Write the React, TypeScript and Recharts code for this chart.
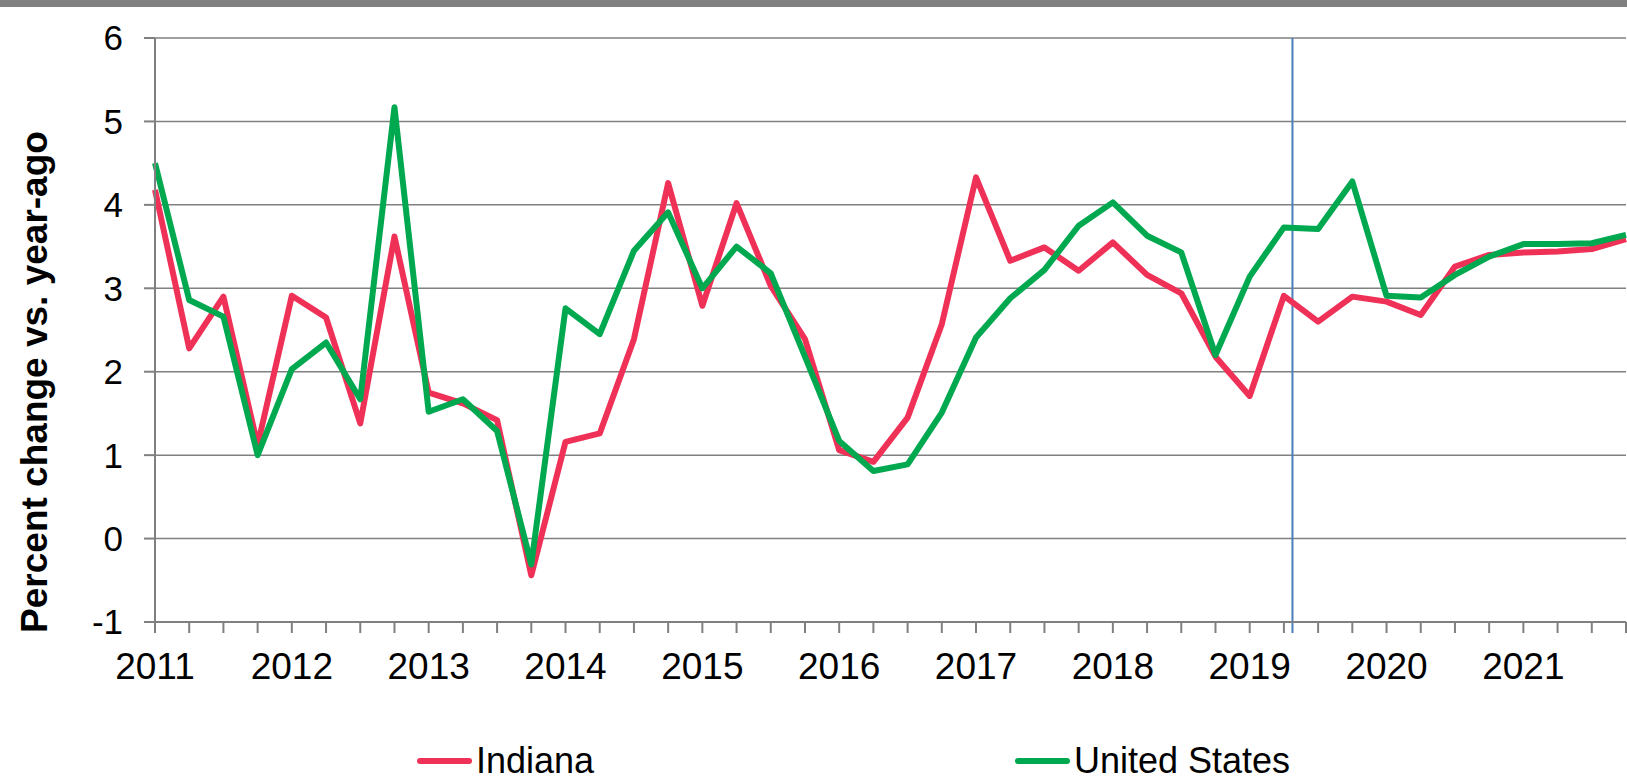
import React from "react";
import {
  LineChart,
  Line,
  XAxis,
  YAxis,
  CartesianGrid,
  ReferenceLine,
  Legend,
} from "recharts";

// quarterly, 2011 Q1 .. 2021 Q4
const startYear = 2011;
const quarters = Array.from({ length: 44 }, (_, i) => `${startYear + Math.floor(i / 4)} Q${(i % 4) + 1}`);

const indiana = [
  4.18, 2.28, 2.9, 1.12, 2.91, 2.65, 1.38, 3.62, 1.75, 1.62, 1.42, -0.44,
  1.16, 1.26, 2.39, 4.26, 2.79, 4.02, 3.03, 2.39, 1.06, 0.92, 1.45, 2.57,
  4.33, 3.33, 3.49, 3.21, 3.55, 3.16, 2.94, 2.18, 1.71, 2.91, 2.6, 2.9,
  2.84, 2.68, 3.26, 3.4, 3.43, 3.44, 3.47, 3.59,
];

const unitedStates = [
  4.5, 2.86, 2.66, 1.0, 2.03, 2.35, 1.67, 5.17, 1.52, 1.67, 1.29, -0.31,
  2.76, 2.45, 3.45, 3.91, 3.0, 3.5, 3.18, 2.18, 1.17, 0.81, 0.89, 1.51,
  2.41, 2.88, 3.22, 3.75, 4.03, 3.63, 3.43, 2.2, 3.14, 3.73, 3.71, 4.28,
  2.91, 2.89, 3.16, 3.38, 3.53, 3.53, 3.54, 3.64,
];

const yTicks = [-1, 0, 1, 2, 3, 4, 5, 6];
// forecast marker sits a quarter past 2019 Q2
const forecastStart = 33.25;

const data = quarters.map((q, i) => ({
  i,
  quarter: q,
  indiana: indiana[i],
  us: unitedStates[i],
}));

const xTicks = quarters.map((_, i) => i);

const FONT = '"Liberation Sans", Arial, sans-serif';
const GRAY = "#808080";
const RED = "#EF3158";
const GREEN = "#00A84F";

const legendSpots = [417, 1015];

const renderLegend = (props: any) => {
  const { payload } = props;
  return (
    <svg width={1627} height={60}>
      {(payload || []).map((item: any, idx: number) => {
        const x = legendSpots[idx];
        return (
          <g key={item.value}>
            <line
              x1={x + 3}
              x2={x + 52}
              y1={43}
              y2={43}
              stroke={item.color}
              strokeWidth={6}
              strokeLinecap="round"
            />
            <text x={x + 59} y={55} fontSize={36} fontFamily={FONT} fill="#000">
              {item.value}
            </text>
          </g>
        );
      })}
    </svg>
  );
};

const ForecastLine = (props: any) => {
  const { x1, y1, x2, y2 } = props;
  const top = Math.min(y1, y2);
  const bottom = Math.max(y1, y2);
  return <line x1={x1} y1={top} x2={x2} y2={bottom + 11} stroke="#4A7EBB" strokeWidth={2} />;
};

const YTitle = () => {
  const cx = 47;
  const cy = 382;
  return (
    <text
      x={cx}
      y={cy}
      transform={`rotate(-90, ${cx}, ${cy})`}
      textAnchor="middle"
      fontSize={37}
      fontWeight="bold"
      fontFamily={FONT}
      fill="#000"
    >
      Percent change vs. year-ago
    </text>
  );
};

const App = () => {
  return (
    <div style={{ position: "absolute", left: 0, top: 0, width: 1627, height: 778, background: "#fff" }}>
      <div style={{ position: "absolute", left: 0, top: 0, width: 1627, height: 7, background: GRAY, zIndex: 2 }} />
      <LineChart
        width={1627}
        height={778}
        data={data}
        margin={{ top: 38, right: 1, left: 0, bottom: 0 }}
      >
        <CartesianGrid vertical={false} stroke={GRAY} strokeWidth={1.5} />
        <XAxis
          dataKey="i"
          type="number"
          domain={[0, 43]}
          ticks={xTicks}
          interval={0}
          height={96}
          tickFormatter={(v: number) => (v % 4 === 0 ? String(startYear + v / 4) : "")}
          tick={{ fill: "#000", fontSize: 37, fontFamily: FONT }}
          tickSize={11}
          tickMargin={20}
          tickLine={{ stroke: GRAY, strokeWidth: 2 }}
          axisLine={{ stroke: GRAY, strokeWidth: 2 }}
        />
        <YAxis
          domain={[-1, 6]}
          ticks={yTicks}
          interval={0}
          width={155}
          tick={{ fill: "#000", fontSize: 35, fontFamily: FONT }}
          tickSize={11}
          tickMargin={21}
          tickLine={{ stroke: GRAY, strokeWidth: 2 }}
          axisLine={{ stroke: GRAY, strokeWidth: 2 }}
          label={{ content: <YTitle /> }}
        />
        <ReferenceLine x={forecastStart} shape={<ForecastLine />} />
        <Line
          type="linear"
          dataKey="indiana"
          name="Indiana"
          stroke={RED}
          strokeWidth={6}
          strokeLinejoin="round"
          dot={false}
          activeDot={false}
          isAnimationActive={false}
        />
        <Line
          type="linear"
          dataKey="us"
          name="United States"
          stroke={GREEN}
          strokeWidth={6}
          strokeLinejoin="round"
          dot={false}
          activeDot={false}
          isAnimationActive={false}
        />
        <Legend verticalAlign="bottom" height={60} content={renderLegend} />
      </LineChart>
    </div>
  );
};

export default App;
